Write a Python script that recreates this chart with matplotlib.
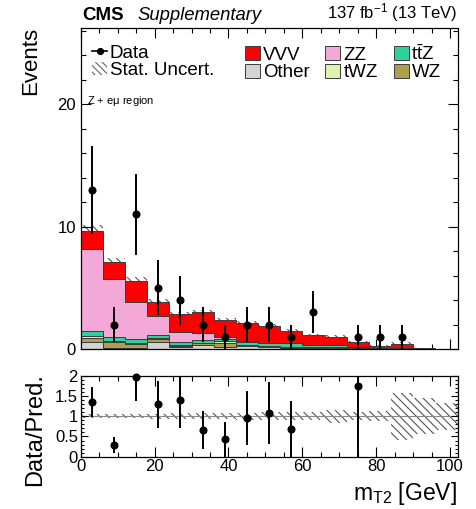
import numpy as np
import matplotlib
matplotlib.use("Agg")
import matplotlib.pyplot as plt
from matplotlib.patches import Patch
from matplotlib.lines import Line2D
from matplotlib.ticker import MultipleLocator, FormatStrFormatter

# ---------------- data ----------------
bin_edges = np.arange(0, 108, 6)  # m_T2 bins [GeV], 0..102
data = [13, 2, 11, 5, 4, 2, 1, 2, 2, 1, 3, 0, 1, 1, 1, 0, 0]
other = [0.60, 0.10, 0.10, 0.60, 0.20, 0.35, 0.14, 0.25, 0.15, 0.10, 0.10, 0.10, 0.02, 0.00, 0.08, 0.00, 0.00]
wz    = [0.30, 0.45, 0.30, 0.20, 0.05, 0.10, 0.38, 0.05, 0.05, 0.05, 0.05, 0.02, 0.02, 0.02, 0.00, 0.03, 0.00]
twz   = [0.15, 0.12, 0.10, 0.10, 0.05, 0.05, 0.10, 0.03, 0.05, 0.05, 0.05, 0.03, 0.02, 0.00, 0.00, 0.00, 0.00]
ttz   = [0.42, 0.28, 0.32, 0.24, 0.30, 0.25, 0.22, 0.27, 0.20, 0.25, 0.15, 0.15, 0.08, 0.03, 0.02, 0.00, 0.00]
zz    = [6.68, 4.74, 2.99, 1.56, 0.80, 0.55, 0.15, 0.02, 0.02, 0.05, 0.00, 0.00, 0.03, 0.00, 0.00, 0.00, 0.00]
vvv   = [1.52, 1.39, 1.75, 1.17, 1.46, 1.70, 1.36, 1.48, 1.38, 0.95, 0.80, 0.70, 0.40, 0.22, 0.28, 0.05, 0.02]
stat_rel = [0.045, 0.05, 0.055, 0.06, 0.07, 0.07, 0.08, 0.09, 0.10, 0.10, 0.10, 0.16, 0.10, 0.12, 0.58, 0.45, 0.33]

labels = ["Other", "WZ", "tWZ", r"t$\mathregular{\bar{t}}$Z", "ZZ", "VVV"]
colors = ["#d3d3d3", "#aca04e", "#ddf4ae", "#30d29c", "#f3a8d8", "#ff0000"]

# ---------------- style ----------------
plt.rcParams["font.family"] = ["Liberation Sans", "DejaVu Sans"]
plt.rcParams["mathtext.fontset"] = "custom"
plt.rcParams["mathtext.rm"] = "Liberation Sans"
plt.rcParams["mathtext.it"] = "Liberation Sans:italic"
plt.rcParams["hatch.linewidth"] = 0.8
plt.rcParams["axes.linewidth"] = 0.9

fig = plt.figure(figsize=(4.77, 5.09), dpi=100)
W, H = 477.0, 509.0
ax = fig.add_axes([80.7 / W, 1 - 349 / H, (457.5 - 80.7) / W, (349 - 28.3) / H])
axr = fig.add_axes([80.7 / W, 1 - 456.7 / H, (457.5 - 80.7) / W, (456.7 - 375.7) / H])

edges = bin_edges.astype(float)
centers = 0.5 * (edges[:-1] + edges[1:])
data = np.array(data, dtype=float)
rel = np.array(stat_rel)

layers = [other, wz, twz, ttz, zz, vvv]
bottom = np.zeros(len(centers))
handles_stack = []
for vals, col, lab in zip(layers, colors, labels):
    vals = np.array(vals)
    ax.stairs(bottom + vals, edges, baseline=bottom, fill=True,
              facecolor=col, edgecolor="#3c3c3c", linewidth=0.7, zorder=2)
    bottom = bottom + vals
    handles_stack.append(Patch(facecolor=col, edgecolor="#3c3c3c", linewidth=0.7, label=lab))
total = bottom

# stat uncertainty band
ax.stairs(total * (1 + rel), edges, baseline=total * (1 - rel), fill=True,
          facecolor="none", edgecolor="#555555", linewidth=0, hatch="\\\\\\\\", zorder=1)

# data points
m = data > 0
ax.errorbar(centers[m], data[m], yerr=np.sqrt(data[m]), fmt="o", color="black",
            ms=4.8, elinewidth=1.4, capsize=0, zorder=5)

ax.set_xlim(0, 102)
ax.set_ylim(0, 26.2)
ax.yaxis.set_major_locator(MultipleLocator(10))
ax.yaxis.set_minor_locator(MultipleLocator(2))
ax.xaxis.set_major_locator(MultipleLocator(20))
ax.xaxis.set_minor_locator(MultipleLocator(5))
ax.tick_params(which="both", direction="in", top=True, right=True, labelsize=12, width=0.8)
ax.tick_params(which="major", length=7)
ax.tick_params(which="minor", length=3.5)
ax.tick_params(axis="x", labelbottom=False)

# legends
h_data = Line2D([], [], color="black", marker="o", ms=4.2, lw=1.2, label="Data")
h_unc = Patch(facecolor="none", edgecolor="#666666", linewidth=0, hatch="\\\\\\\\\\", label="Stat. Uncert.")
hs = {l: h for l, h in zip(labels, handles_stack)}
leg_kw = dict(frameon=False, fontsize=13.5, borderpad=0, borderaxespad=0,
              handlelength=0.8, handleheight=0.75, handletextpad=0.15,
              labelspacing=0.0, loc="upper left")
leg1 = ax.legend(handles=[h_data, h_unc], ncol=1, bbox_to_anchor=(0.03, 0.95), **leg_kw)
ax.add_artist(leg1)
order = [hs["VVV"], hs["Other"], hs["ZZ"], hs["tWZ"],
         hs[r"t$\mathregular{\bar{t}}$Z"], hs["WZ"]]
leg2 = ax.legend(handles=order, ncol=3, bbox_to_anchor=(0.436, 0.95),
                 columnspacing=0.85, **leg_kw)

ax.text(0.016, 0.773, r"Z + e$\mathregular{\mu}$ region", transform=ax.transAxes,
        fontsize=8, ha="left", va="center")

# header
ax.text(0.003, 1.012, "CMS", transform=ax.transAxes, fontsize=13.5, fontweight="bold",
        ha="left", va="bottom")
ax.text(0.15, 1.012, "Supplementary", transform=ax.transAxes, fontsize=13.3, style="italic",
        ha="left", va="bottom")
ax.text(1.0, 1.012, r"137 fb$^{\mathregular{-1}}$ (13 TeV)", transform=ax.transAxes,
        fontsize=12, ha="right", va="bottom")

fig.text(31 / W, 1 - 27 / H, "Events", rotation=90, fontsize=16, ha="center", va="top")

# ---------------- ratio panel ----------------
axr.stairs(1 + rel, edges, baseline=1 - rel, fill=True, facecolor="none",
           edgecolor="#555555", linewidth=0, hatch="\\\\\\\\", zorder=1)
axr.axhline(1.0, color="#888888", lw=0.8, zorder=1.5)

ratio = np.where(total > 0, data / total, 0.0)
rerr = np.where(total > 0, np.sqrt(data) / total, 0.0)
mr = (data > 0) & (ratio <= 2.01)
axr.errorbar(centers[mr], ratio[mr], yerr=rerr[mr], fmt="none", ecolor="black",
             elinewidth=1.4, capsize=0, zorder=4)
axr.plot(centers[mr], ratio[mr], "o", color="black", ms=4.8, zorder=5, clip_on=False)

axr.set_xlim(0, 102)
axr.set_ylim(0, 2.0)
axr.yaxis.set_major_locator(MultipleLocator(0.5))
axr.yaxis.set_minor_locator(MultipleLocator(0.1))
axr.yaxis.set_major_formatter(FormatStrFormatter("%g"))
axr.xaxis.set_major_locator(MultipleLocator(20))
axr.xaxis.set_minor_locator(MultipleLocator(5))
axr.tick_params(which="both", direction="in", top=True, right=True, labelsize=12, width=0.8)
axr.tick_params(axis="x", which="major", length=7, pad=2)
axr.tick_params(axis="x", which="minor", length=3.5)
axr.tick_params(axis="y", which="major", length=5, pad=2)
axr.tick_params(axis="y", which="minor", length=2.5)

fig.text(35 / W, 1 - 373 / H, "Data/Pred.", rotation=90, fontsize=17, ha="center", va="top")
fig.text(457 / W, 1 - 507 / H, r"m$_{\mathregular{T2}}$ [GeV]", fontsize=16.5, ha="right", va="bottom")

fig.savefig("out.png", dpi=100)
